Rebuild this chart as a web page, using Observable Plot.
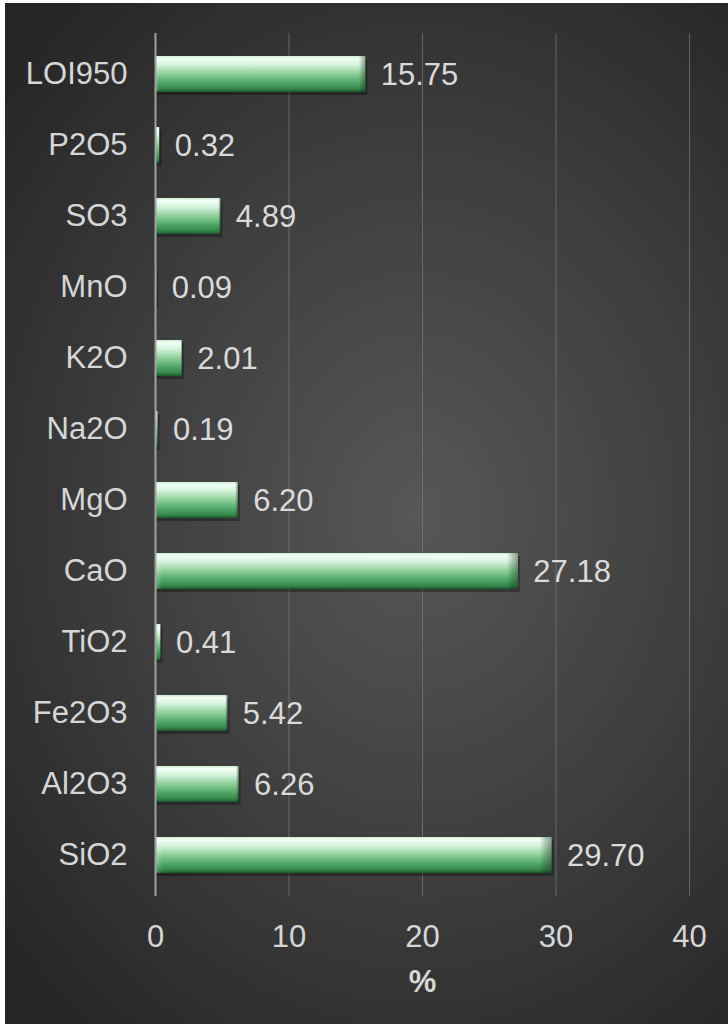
<!DOCTYPE html>
<html>
<head>
<meta charset="utf-8">
<script src="https://cdn.jsdelivr.net/npm/d3@7"></script>
<script src="https://cdn.jsdelivr.net/npm/@observablehq/plot@0.6"></script>
<style>
  html, body { margin: 0; padding: 0; background: #ffffff; }
  #wrap {
    position: absolute; left: 5px; top: 3px; width: 723px; height: 1021px;
    background: radial-gradient(ellipse 75% 65% at 57% 50%, #575757 0%, #3d3d3d 55%, #262626 100%);
    overflow: hidden;
  }
</style>
</head>
<body>
<div id="wrap"></div>
<script>
const categories = ["SiO2", "Al2O3", "Fe2O3", "TiO2", "CaO", "MgO", "Na2O", "K2O", "MnO", "SO3", "P2O5", "LOI950"];
const values = [29.70, 6.26, 5.42, 0.41, 27.18, 6.20, 0.19, 2.01, 0.09, 4.89, 0.32, 15.75];
const xTicks = [0, 10, 20, 30, 40];
const xLabel = "%";

const data = categories.map((c, i) => ({category: c, value: values[i]}));
const ns = "http://www.w3.org/2000/svg";

const defsMark = () => {
  const d = document.createElementNS(ns, "defs");
  d.innerHTML = `
    <linearGradient id="barGrad" x1="0" y1="0" x2="0" y2="1">
      <stop offset="0" stop-color="#cfeed6"/>
      <stop offset="0.08" stop-color="#f2fff5"/>
      <stop offset="0.25" stop-color="#d4f2da"/>
      <stop offset="0.5" stop-color="#8ccf9a"/>
      <stop offset="0.75" stop-color="#4fa565"/>
      <stop offset="0.9" stop-color="#388a4e"/>
      <stop offset="1" stop-color="#1c5a2c"/>
    </linearGradient>
    <linearGradient id="endGrad" x1="0" y1="0" x2="1" y2="0">
      <stop offset="0" stop-color="#ffffff" stop-opacity="0.25"/>
      <stop offset="0.02" stop-color="#ffffff" stop-opacity="0"/>
      <stop offset="0.97" stop-color="#000000" stop-opacity="0"/>
      <stop offset="1" stop-color="#0a3a18" stop-opacity="0.45"/>
    </linearGradient>`;
  return d;
};

const plot = Plot.plot({
  width: 723,
  height: 1021,
  marginLeft: 150,
  marginRight: 39,
  marginTop: 30,
  marginBottom: 128,
  style: {
    background: "transparent",
    fontFamily: "Arial, 'Liberation Sans', sans-serif",
    color: "#d6d6d6",
    overflow: "visible"
  },
  x: {domain: [0, 40], ticks: xTicks},
  y: {domain: categories.slice().reverse(), paddingInner: 0.5, paddingOuter: 0.25},
  marks: [
    defsMark,
    Plot.gridX(xTicks.filter(t => t > 0), {stroke: "#7a7a7a", strokeOpacity: 0.7, strokeWidth: 1}),
    Plot.barX(data, {x: "value", y: "category", fill: "#000000", fillOpacity: 0.3, dx: 2, dy: 3}),
    Plot.barX(data, {x: "value", y: "category", fill: "url(#barGrad)"}),
    Plot.barX(data, {x: "value", y: "category", fill: "url(#endGrad)"}),
    Plot.ruleX([0], {stroke: "#a0a0a0", strokeWidth: 2}),
    Plot.text(data, {
      x: "value", y: "category", text: d => d3.format(".2f")(d.value),
      dx: 15, dy: 1, textAnchor: "start", fill: "#dadada", fontSize: 31
    }),
    Plot.axisY({tickSize: 0, tickPadding: 28, fontSize: 31, fill: "#d6d6d6", label: null}),
    Plot.axisX({
      ticks: xTicks, tickSize: 0, tickPadding: 28, fontSize: 31, fill: "#d6d6d6",
      label: xLabel, labelAnchor: "center", labelArrow: "none", labelOffset: 95
    })
  ]
});

plot.querySelectorAll("[aria-label='x-axis label'] text").forEach(t => {
  t.setAttribute("font-weight", "bold");
});

document.getElementById("wrap").appendChild(plot);
</script>
</body>
</html>
